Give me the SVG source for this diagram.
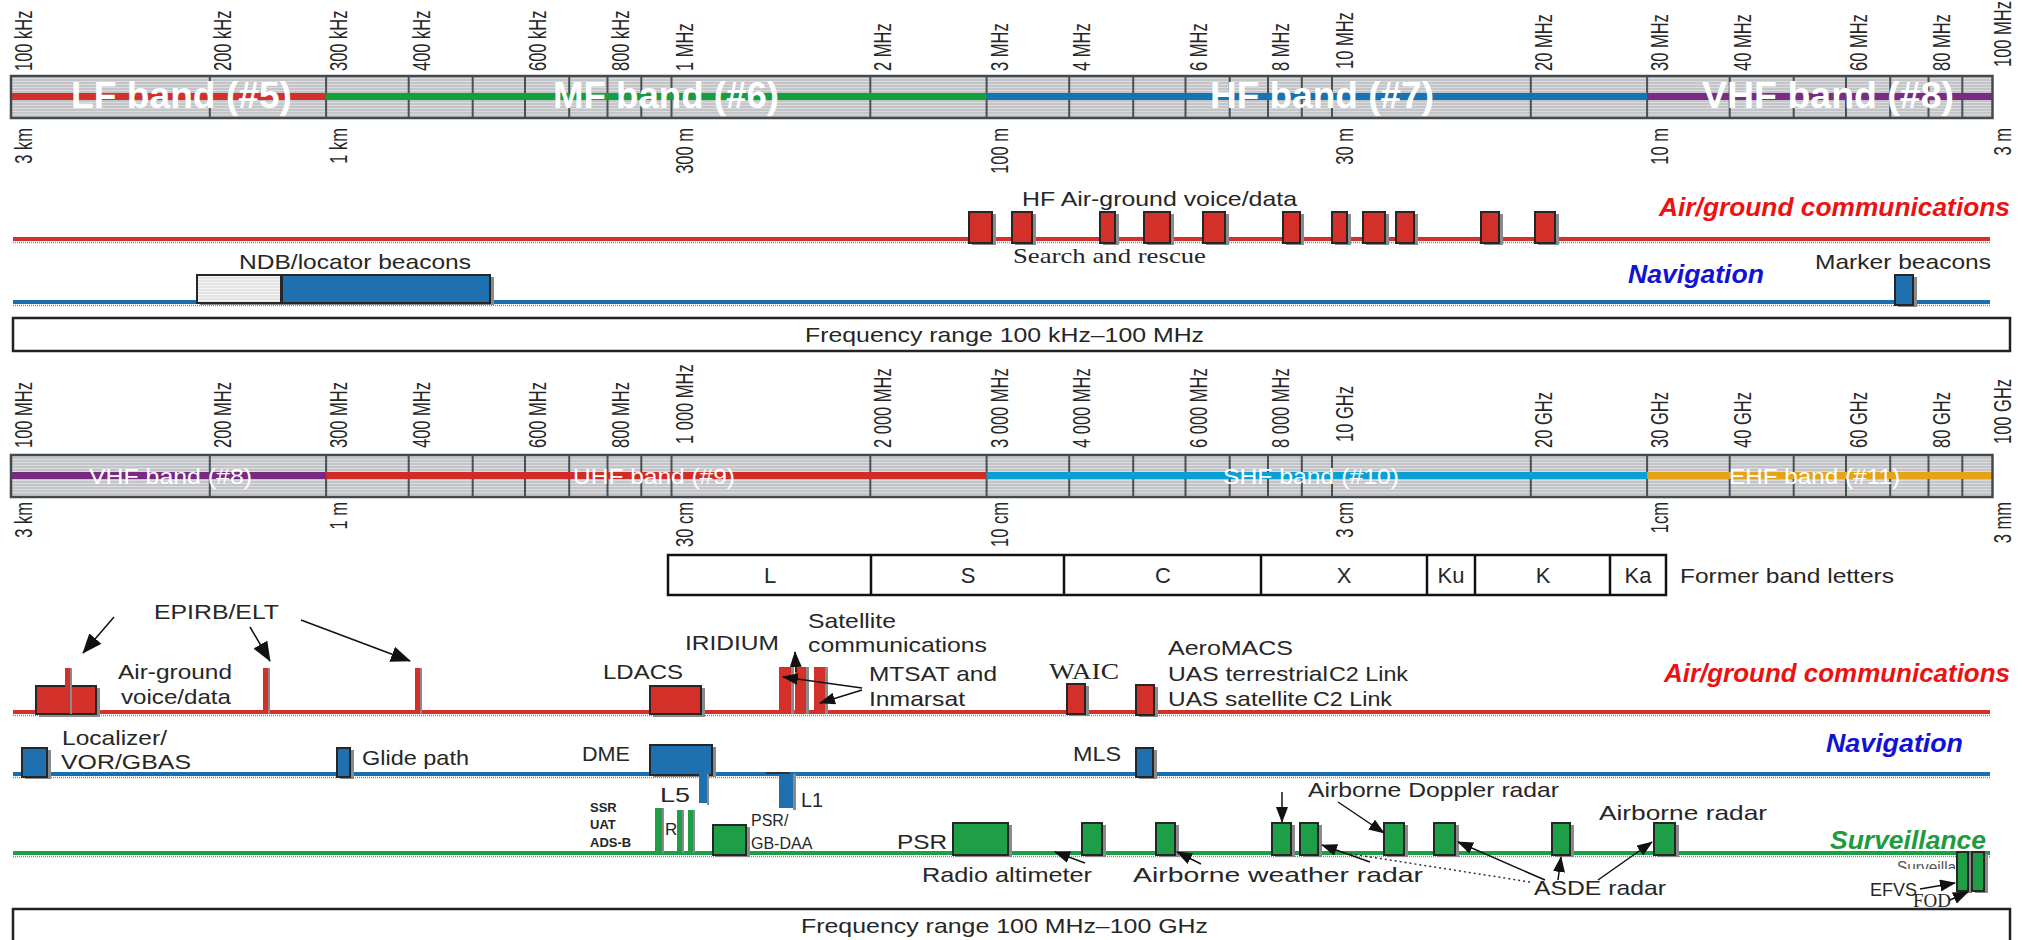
<svg xmlns="http://www.w3.org/2000/svg" width="2025" height="940" viewBox="0 0 2025 940">
<defs>
<style>
text{font-family:"Liberation Sans",Arial,sans-serif;fill:#262626}
.tk{font-size:16.5px}
.band{fill:#fff;font-size:36px;font-weight:bold}
.band2{fill:#fff;font-size:22.5px}
.l{font-size:21px}
.ser{font-family:"Liberation Serif","Times New Roman",serif}
.cat{font-weight:bold;font-style:italic;font-size:26.5px}
.rb{fill:#d4302a;stroke:#262626;stroke-width:2}
.bb{fill:#1f70ae;stroke:#262626;stroke-width:2}
.gb{fill:#1f9e48;stroke:#262626;stroke-width:2}
.sh{fill:#8a8a8a}
.div{stroke:#4a5155;stroke-width:2;fill:none}
.dot{stroke:#8a8a8a;stroke-width:1.5;stroke-dasharray:1 1;fill:none}
.arr{stroke:#111;stroke-width:1.5;fill:none;marker-end:url(#ah)}
.arrb{stroke:#111;stroke-width:1.5;fill:none;marker-end:url(#ahb)}
</style>
<pattern id="stripe" width="6" height="3" patternUnits="userSpaceOnUse"><rect width="6" height="3" fill="#c3c5c8"/><rect width="6" height="1" fill="#dadcde"/></pattern>
<pattern id="stripeL" width="6" height="3" patternUnits="userSpaceOnUse"><rect width="6" height="3" fill="#e4e4e4"/><rect width="6" height="1" fill="#f4f4f4"/></pattern>
<marker id="ah" viewBox="0 0 16 12" markerWidth="16" markerHeight="12" refX="15" refY="6" orient="auto" markerUnits="userSpaceOnUse"><path d="M0,0L16,6L0,12z" fill="#111"/></marker>
<marker id="ahb" viewBox="0 0 20 16" markerWidth="20" markerHeight="16" refX="19" refY="8" orient="auto" markerUnits="userSpaceOnUse"><path d="M0,0L20,8L0,16z" fill="#111"/></marker>
<clipPath id="cliphid"><rect x="1880" y="858" width="110" height="11"/></clipPath>
<path id="divs" d="M209.8,0V42M326.1,0V42M408.7,0V42M472.7,0V42M525,0V42M569.2,0V42M607.5,0V42M641.3,0V42M671.5,0V42M870.3,0V42M986.6,0V42M1069.2,0V42M1133.2,0V42M1185.5,0V42M1229.7,0V42M1268,0V42M1301.8,0V42M1332,0V42M1530.8,0V42M1647.1,0V42M1729.7,0V42M1793.7,0V42M1846,0V42M1890.2,0V42M1928.5,0V42M1962.3,0V42"/>
</defs>
<rect width="2025" height="940" fill="#fff"/>

<!-- ================= TOP SCALE ================= -->
<g id="scale-top">
<rect x="11" y="76" width="1981.5" height="42" fill="url(#stripe)"/>
<line x1="11" y1="97" x2="1992.5" y2="97" class="dot"/>
<use href="#divs" transform="translate(0,76)" class="div"/>
<rect x="11" y="93" width="315.1" height="7" fill="#d42f2a"/>
<rect x="326.1" y="93" width="660.5" height="7" fill="#12a03e"/>
<rect x="986.6" y="93" width="660.5" height="7" fill="#1474b4"/>
<rect x="1647.1" y="93" width="345.4" height="7" fill="#7a2c84"/>
<rect x="11" y="76" width="1981.5" height="42" fill="none" stroke="#434a4e" stroke-width="2.5"/>
<text class="band" x="71" y="108" textLength="221" lengthAdjust="spacingAndGlyphs">LF band (#5)</text>
<text class="band" x="553" y="108" textLength="226" lengthAdjust="spacingAndGlyphs">MF band (#6)</text>
<text class="band" x="1210" y="108" textLength="224" lengthAdjust="spacingAndGlyphs">HF band (#7)</text>
<text class="band" x="1702" y="108" textLength="252" lengthAdjust="spacingAndGlyphs">VHF band (#8)</text>
</g>
<g id="freq-top" class="tk">
<text transform="translate(32,71) scale(1.45,1) rotate(-90)">100 kHz</text>
<text transform="translate(230.8,71) scale(1.45,1) rotate(-90)">200 kHz</text>
<text transform="translate(347.1,71) scale(1.45,1) rotate(-90)">300 kHz</text>
<text transform="translate(429.7,71) scale(1.45,1) rotate(-90)">400 kHz</text>
<text transform="translate(546,71) scale(1.45,1) rotate(-90)">600 kHz</text>
<text transform="translate(628.5,71) scale(1.45,1) rotate(-90)">800 kHz</text>
<text transform="translate(692.5,71) scale(1.45,1) rotate(-90)">1 MHz</text>
<text transform="translate(891.3,71) scale(1.45,1) rotate(-90)">2 MHz</text>
<text transform="translate(1007.6,71) scale(1.45,1) rotate(-90)">3 MHz</text>
<text transform="translate(1090.2,71) scale(1.45,1) rotate(-90)">4 MHz</text>
<text transform="translate(1206.5,71) scale(1.45,1) rotate(-90)">6 MHz</text>
<text transform="translate(1289,71) scale(1.45,1) rotate(-90)">8 MHz</text>
<text transform="translate(1353,69) scale(1.45,1) rotate(-90)">10 MHz</text>
<text transform="translate(1551.8,71) scale(1.45,1) rotate(-90)">20 MHz</text>
<text transform="translate(1668.1,71) scale(1.45,1) rotate(-90)">30 MHz</text>
<text transform="translate(1750.7,71) scale(1.45,1) rotate(-90)">40 MHz</text>
<text transform="translate(1867,71) scale(1.45,1) rotate(-90)">60 MHz</text>
<text transform="translate(1949.5,71) scale(1.45,1) rotate(-90)">80 MHz</text>
<text transform="translate(2011,67) scale(1.45,1) rotate(-90)">100 MHz</text>
</g>
<g id="wave-top" class="tk" text-anchor="end">
<text transform="translate(32,128) scale(1.45,1) rotate(-90)">3 km</text>
<text transform="translate(347.1,128) scale(1.45,1) rotate(-90)">1 km</text>
<text transform="translate(692.5,128) scale(1.45,1) rotate(-90)">300 m</text>
<text transform="translate(1007.6,128) scale(1.45,1) rotate(-90)">100 m</text>
<text transform="translate(1353,128) scale(1.45,1) rotate(-90)">30 m</text>
<text transform="translate(1668.1,128) scale(1.45,1) rotate(-90)">10 m</text>
<text transform="translate(2011,128) scale(1.45,1) rotate(-90)">3 m</text>
</g>

<!-- ================= TOP SERVICES ================= -->
<g id="lines-top">
<rect x="13" y="237" width="1977" height="4" fill="#d3302a"/>
<line x1="13" y1="242.5" x2="1990" y2="242.5" class="dot"/>
<rect x="13" y="300" width="1977" height="4" fill="#1a6fb0"/>
<line x1="13" y1="305.5" x2="1990" y2="305.5" class="dot"/>
</g>
<g id="hf-airground">
<rect class="sh" x="972" y="214" width="24" height="31"/><rect class="rb" x="969" y="212" width="23" height="31"/>
<rect class="sh" x="1015" y="214" width="21" height="31"/><rect class="rb" x="1012" y="212" width="20" height="31"/>
<rect class="sh" x="1103" y="214" width="16" height="31"/><rect class="rb" x="1100" y="212" width="15" height="31"/>
<rect class="sh" x="1147" y="214" width="27" height="31"/><rect class="rb" x="1144" y="212" width="26" height="31"/>
<rect class="sh" x="1206" y="214" width="23" height="31"/><rect class="rb" x="1203" y="212" width="22" height="31"/>
<rect class="sh" x="1286" y="214" width="18" height="31"/><rect class="rb" x="1283" y="212" width="17" height="31"/>
<rect class="sh" x="1335" y="214" width="16" height="31"/><rect class="rb" x="1332" y="212" width="15" height="31"/>
<rect class="sh" x="1366" y="214" width="23" height="31"/><rect class="rb" x="1363" y="212" width="22" height="31"/>
<rect class="sh" x="1399" y="214" width="19" height="31"/><rect class="rb" x="1396" y="212" width="18" height="31"/>
<rect class="sh" x="1484" y="214" width="19" height="31"/><rect class="rb" x="1481" y="212" width="18" height="31"/>
<rect class="sh" x="1538" y="214" width="21" height="31"/><rect class="rb" x="1535" y="212" width="20" height="31"/>
<text class="l" x="1022" y="206" textLength="275" lengthAdjust="spacingAndGlyphs">HF Air-ground voice/data</text>
<text class="ser" x="1013" y="263" font-size="22" textLength="193" lengthAdjust="spacingAndGlyphs">Search and rescue</text>
</g>
<g id="ndb">
<rect class="sh" x="200" y="277" width="294" height="28"/>
<rect x="197" y="275" width="84" height="28" fill="url(#stripeL)" stroke="#262626" stroke-width="2"/>
<rect class="bb" x="282" y="275" width="208" height="28"/>
<text class="l" x="239" y="269" textLength="232" lengthAdjust="spacingAndGlyphs">NDB/locator beacons</text>
</g>
<g id="marker">
<rect class="sh" x="1898" y="277" width="19" height="30"/><rect class="bb" x="1895" y="275" width="18" height="30"/>
<text class="l" x="1815" y="269" textLength="176" lengthAdjust="spacingAndGlyphs">Marker beacons</text>
</g>
<g id="cat-top">
<text class="cat" x="1659" y="216" style="fill:#ee1111" textLength="351" lengthAdjust="spacingAndGlyphs">Air/ground communications</text>
<text class="cat" x="1628" y="283" style="fill:#1212d6" textLength="136" lengthAdjust="spacingAndGlyphs">Navigation</text>
</g>
<g id="range-top">
<rect x="13" y="318" width="1997" height="33" fill="#fff" stroke="#222" stroke-width="2.5"/>
<text class="l" x="805" y="342" textLength="399" lengthAdjust="spacingAndGlyphs">Frequency range 100 kHz–100 MHz</text>
</g>

<!-- ================= BOTTOM SCALE ================= -->
<g id="scale-bottom">
<rect x="11" y="455" width="1981.5" height="42" fill="url(#stripe)"/>
<line x1="11" y1="476" x2="1992.5" y2="476" class="dot"/>
<use href="#divs" transform="translate(0,455)" class="div"/>
<rect x="11" y="472" width="315.1" height="7" fill="#772a80"/>
<rect x="326.1" y="472" width="660.5" height="7" fill="#d12b27"/>
<rect x="986.6" y="472" width="660.5" height="7" fill="#0aa0d6"/>
<rect x="1647.1" y="472" width="345.4" height="7" fill="#e6a318"/>
<rect x="11" y="455" width="1981.5" height="42" fill="none" stroke="#434a4e" stroke-width="2.5"/>
<text class="band2" x="89" y="484" textLength="163" lengthAdjust="spacingAndGlyphs">VHF band (#8)</text>
<text class="band2" x="573" y="484" textLength="162" lengthAdjust="spacingAndGlyphs">UHF band (#9)</text>
<text class="band2" x="1223" y="484" textLength="176" lengthAdjust="spacingAndGlyphs">SHF band (#10)</text>
<text class="band2" x="1729" y="484" textLength="171" lengthAdjust="spacingAndGlyphs">EHF band (#11)</text>
</g>
<g id="freq-bottom" class="tk">
<text transform="translate(32,448) scale(1.45,1) rotate(-90)">100 MHz</text>
<text transform="translate(230.8,448) scale(1.45,1) rotate(-90)">200 MHz</text>
<text transform="translate(347.1,448) scale(1.45,1) rotate(-90)">300 MHz</text>
<text transform="translate(429.7,448) scale(1.45,1) rotate(-90)">400 MHz</text>
<text transform="translate(546,448) scale(1.45,1) rotate(-90)">600 MHz</text>
<text transform="translate(628.5,448) scale(1.45,1) rotate(-90)">800 MHz</text>
<text transform="translate(692.5,444) scale(1.45,1) rotate(-90)">1 000 MHz</text>
<text transform="translate(891.3,448) scale(1.45,1) rotate(-90)">2 000 MHz</text>
<text transform="translate(1007.6,448) scale(1.45,1) rotate(-90)">3 000 MHz</text>
<text transform="translate(1090.2,448) scale(1.45,1) rotate(-90)">4 000 MHz</text>
<text transform="translate(1206.5,448) scale(1.45,1) rotate(-90)">6 000 MHz</text>
<text transform="translate(1289,448) scale(1.45,1) rotate(-90)">8 000 MHz</text>
<text transform="translate(1353,442) scale(1.45,1) rotate(-90)">10 GHz</text>
<text transform="translate(1551.8,448) scale(1.45,1) rotate(-90)">20 GHz</text>
<text transform="translate(1668.1,448) scale(1.45,1) rotate(-90)">30 GHz</text>
<text transform="translate(1750.7,448) scale(1.45,1) rotate(-90)">40 GHz</text>
<text transform="translate(1867,448) scale(1.45,1) rotate(-90)">60 GHz</text>
<text transform="translate(1949.5,448) scale(1.45,1) rotate(-90)">80 GHz</text>
<text transform="translate(2011,444) scale(1.45,1) rotate(-90)">100 GHz</text>
</g>
<g id="wave-bottom" class="tk" text-anchor="end">
<text transform="translate(32,502) scale(1.45,1) rotate(-90)">3 km</text>
<text transform="translate(347.1,502) scale(1.45,1) rotate(-90)">1 m</text>
<text transform="translate(692.5,502) scale(1.45,1) rotate(-90)">30 cm</text>
<text transform="translate(1007.6,502) scale(1.45,1) rotate(-90)">10 cm</text>
<text transform="translate(1353,502) scale(1.45,1) rotate(-90)">3 cm</text>
<text transform="translate(1668.1,502) scale(1.45,1) rotate(-90)">1cm</text>
<text transform="translate(2011,502) scale(1.45,1) rotate(-90)">3 mm</text>
</g>
<g id="band-letters">
<rect x="668" y="555" width="998" height="40" fill="#fff" stroke="#111" stroke-width="2.5"/>
<path d="M871,555V595M1064,555V595M1261,555V595M1427,555V595M1475,555V595M1610,555V595" stroke="#111" stroke-width="2.5"/>
<g font-size="22" text-anchor="middle">
<text x="770" y="583">L</text><text x="968" y="583">S</text><text x="1163" y="583">C</text><text x="1344" y="583">X</text><text x="1451" y="583">Ku</text><text x="1543" y="583">K</text><text x="1638" y="583">Ka</text>
</g>
<text class="l" x="1680" y="583" textLength="214" lengthAdjust="spacingAndGlyphs">Former band letters</text>
</g>

<!-- ================= BOTTOM SERVICES ================= -->
<g id="lines-bottom">
<rect x="13" y="710" width="1977" height="4" fill="#d3302a"/>
<line x1="13" y1="715.5" x2="1990" y2="715.5" class="dot"/>
<rect x="13" y="772" width="1977" height="4" fill="#1a6fb0"/>
<line x1="13" y1="777.5" x2="1990" y2="777.5" class="dot"/>
<rect x="13" y="851" width="1977" height="4" fill="#1f9e48"/>
<line x1="13" y1="856.5" x2="1990" y2="856.5" class="dot"/>
</g>
<g id="vhf-airground">
<rect class="sh" x="39" y="688" width="61" height="29"/><rect class="rb" x="36" y="686" width="60" height="28"/>
<text class="l" x="118" y="679" textLength="114" lengthAdjust="spacingAndGlyphs">Air-ground</text>
<text class="l" x="121" y="704" textLength="110" lengthAdjust="spacingAndGlyphs">voice/data</text>
</g>
<g id="epirb">
<rect class="sh" x="70" y="668" width="2" height="46"/><rect x="65" y="668" width="5" height="44" fill="#d3302a"/>
<rect class="sh" x="268" y="668" width="2" height="46"/><rect x="263" y="668" width="5" height="44" fill="#d3302a"/>
<rect class="sh" x="420" y="668" width="2" height="46"/><rect x="415" y="668" width="5" height="44" fill="#d3302a"/>
<text class="l" x="154" y="619" textLength="125" lengthAdjust="spacingAndGlyphs">EPIRB/ELT</text>
</g>
<g id="ldacs">
<rect class="sh" x="653" y="688" width="52" height="29"/><rect class="rb" x="650" y="686" width="51" height="28"/>
<text class="l" x="603" y="679" textLength="80" lengthAdjust="spacingAndGlyphs">LDACS</text>
</g>
<g id="satcom">
<rect class="sh" x="791" y="667" width="3" height="47"/><rect x="779" y="667" width="12" height="45" fill="#d3302a"/>
<rect class="sh" x="806" y="667" width="3" height="47"/><rect x="795" y="667" width="11" height="45" fill="#d3302a"/>
<rect class="sh" x="825" y="667" width="3" height="47"/><rect x="814" y="667" width="11" height="45" fill="#d3302a"/>
<text class="l" x="685" y="650" textLength="94" lengthAdjust="spacingAndGlyphs">IRIDIUM</text>
<text class="l" x="808" y="628" textLength="88" lengthAdjust="spacingAndGlyphs">Satellite</text>
<text class="l" x="808" y="652" textLength="179" lengthAdjust="spacingAndGlyphs">communications</text>
<text class="l" x="869" y="681" textLength="128" lengthAdjust="spacingAndGlyphs">MTSAT and</text>
<text class="l" x="869" y="706" textLength="96" lengthAdjust="spacingAndGlyphs">Inmarsat</text>
</g>
<g id="waic">
<rect class="sh" x="1070" y="686" width="19" height="30"/><rect class="rb" x="1067" y="684" width="18" height="30"/>
<text class="ser" x="1049" y="679" font-size="23" textLength="70" lengthAdjust="spacingAndGlyphs">WAIC</text>
</g>
<g id="aeromacs">
<rect class="sh" x="1139" y="687" width="19" height="30"/><rect class="rb" x="1136" y="685" width="18" height="30"/>
<text class="l" x="1168" y="655" textLength="125" lengthAdjust="spacingAndGlyphs">AeroMACS</text>
<text class="l" x="1168" y="681" textLength="160" lengthAdjust="spacingAndGlyphs">UAS terrestrial</text>
<text x="1329" y="681" font-family="'Open Sans','Noto Sans',sans-serif" font-size="21" textLength="79" lengthAdjust="spacingAndGlyphs">C2 Link</text>
<text class="l" x="1168" y="706" textLength="140" lengthAdjust="spacingAndGlyphs">UAS satellite</text>
<text x="1313" y="706" font-family="'Open Sans','Noto Sans',sans-serif" font-size="21" textLength="79" lengthAdjust="spacingAndGlyphs">C2 Link</text>
</g>
<g id="cat-bottom">
<text class="cat" x="1664" y="682" style="fill:#ee1111" textLength="346" lengthAdjust="spacingAndGlyphs">Air/ground communications</text>
<text class="cat" x="1826" y="752" style="fill:#1212d6" textLength="137" lengthAdjust="spacingAndGlyphs">Navigation</text>
<text class="cat" x="1830" y="849" style="fill:#1f9a3e" textLength="156" lengthAdjust="spacingAndGlyphs">Surveillance</text>
<text x="1897" y="873" font-size="16" style="fill:#555" clip-path="url(#cliphid)" textLength="84" lengthAdjust="spacingAndGlyphs">Surveillance</text>
</g>
<g id="localizer">
<rect class="sh" x="25" y="750" width="26" height="29"/><rect class="bb" x="22" y="748" width="25" height="29"/>
<text class="l" x="62" y="745" textLength="105" lengthAdjust="spacingAndGlyphs">Localizer/</text>
<text class="l" x="61" y="769" textLength="130" lengthAdjust="spacingAndGlyphs">VOR/GBAS</text>
</g>
<g id="glide">
<rect class="sh" x="340" y="750" width="14" height="29"/><rect class="bb" x="337" y="748" width="13" height="29"/>
<text class="l" x="362" y="765" textLength="107" lengthAdjust="spacingAndGlyphs">Glide path</text>
</g>
<g id="dme">
<rect class="sh" x="653" y="747" width="63" height="30"/><rect class="bb" x="650" y="745" width="62" height="30"/>
<text class="l" x="582" y="761" font-size="22" textLength="48" lengthAdjust="spacingAndGlyphs">DME</text>
</g>
<g id="gnss">
<rect class="sh" x="707" y="774" width="2" height="31"/><rect x="699" y="774" width="8" height="29" fill="#1f70ae"/>
<rect class="sh" x="793" y="774" width="3" height="36"/><rect x="779" y="774" width="14" height="34" fill="#1f70ae"/>
<line x1="766" y1="773" x2="790" y2="773" stroke="#333" stroke-width="2"/>
<text class="l" x="660" y="802" font-size="24" textLength="30" lengthAdjust="spacingAndGlyphs">L5</text>
<text class="l" x="801" y="807" textLength="22" lengthAdjust="spacingAndGlyphs">L1</text>
</g>
<g id="mls">
<rect class="sh" x="1139" y="750" width="18" height="29"/><rect class="bb" x="1136" y="748" width="17" height="29"/>
<text class="l" x="1073" y="761" textLength="48" lengthAdjust="spacingAndGlyphs">MLS</text>
</g>
<g id="ssr">
<g font-size="13" font-weight="bold">
<text x="590" y="812">SSR</text><text x="590" y="829">UAT</text><text x="590" y="847">ADS-B</text>
</g>
<text x="665" y="835" font-size="17">R</text>
<rect class="sh" x="662" y="808" width="2" height="45"/><rect x="655" y="808" width="7" height="45" fill="#1f9e48"/>
<rect class="sh" x="682" y="810" width="2" height="43"/><rect x="677" y="810" width="5" height="43" fill="#1f9e48"/>
<rect class="sh" x="693" y="810" width="2" height="43"/><rect x="688" y="810" width="5" height="43" fill="#1f9e48"/>
</g>
<g id="psr-gbdaa">
<rect class="sh" x="716" y="827" width="34" height="30"/><rect class="gb" x="713" y="825" width="33" height="30"/>
<text x="751" y="826" font-size="16">PSR/</text>
<text x="751" y="849" font-size="16">GB-DAA</text>
</g>
<g id="psr">
<rect class="sh" x="956" y="825" width="56" height="32"/><rect class="gb" x="953" y="823" width="55" height="32"/>
<text class="l" x="897" y="849" textLength="50" lengthAdjust="spacingAndGlyphs">PSR</text>
</g>
<g id="surv-boxes">
<rect class="sh" x="1085" y="825" width="21" height="32"/><rect class="gb" x="1082" y="823" width="20" height="32"/>
<rect class="sh" x="1159" y="825" width="20" height="32"/><rect class="gb" x="1156" y="823" width="19" height="32"/>
<rect class="sh" x="1275" y="825" width="20" height="32"/><rect class="gb" x="1272" y="823" width="19" height="32"/>
<rect class="sh" x="1303" y="825" width="19" height="32"/><rect class="gb" x="1300" y="823" width="18" height="32"/>
<rect class="sh" x="1387" y="825" width="21" height="32"/><rect class="gb" x="1384" y="823" width="20" height="32"/>
<rect class="sh" x="1437" y="825" width="22" height="32"/><rect class="gb" x="1434" y="823" width="21" height="32"/>
<rect class="sh" x="1555" y="825" width="19" height="32"/><rect class="gb" x="1552" y="823" width="18" height="32"/>
<rect class="sh" x="1657" y="825" width="22" height="32"/><rect class="gb" x="1654" y="823" width="21" height="32"/>
<rect class="sh" x="1960" y="854" width="12" height="39"/><rect class="gb" x="1957" y="852" width="11" height="39"/>
<rect class="sh" x="1975" y="854" width="13" height="39"/><rect class="gb" x="1972" y="852" width="12" height="39"/>
</g>
<g id="surv-labels">
<text class="l" x="922" y="882" textLength="170" lengthAdjust="spacingAndGlyphs">Radio altimeter</text>
<text class="l" x="1133" y="882" textLength="290" lengthAdjust="spacingAndGlyphs">Airborne weather radar</text>
<text class="l" x="1308" y="797" textLength="251" lengthAdjust="spacingAndGlyphs">Airborne Doppler radar</text>
<text class="l" x="1599" y="820" textLength="168" lengthAdjust="spacingAndGlyphs">Airborne radar</text>
<text class="l" x="1534" y="895" textLength="132" lengthAdjust="spacingAndGlyphs">ASDE radar</text>
<text x="1870" y="896" font-size="18">EFVS</text>
<text class="ser" x="1913" y="907" font-size="19">FOD</text>
</g>
<g id="connectors">
<line class="arrb" x1="114" y1="617" x2="83" y2="653"/>
<line class="arrb" x1="250" y1="627" x2="270" y2="661"/>
<line class="arrb" x1="301" y1="620" x2="410" y2="661"/>
<line class="arr" x1="796" y1="672" x2="795" y2="652"/>
<line class="arr" x1="862" y1="688" x2="783" y2="677"/>
<line class="arr" x1="862" y1="690" x2="820" y2="703"/>
<line class="arr" x1="1085" y1="863" x2="1055" y2="852"/>
<line class="arr" x1="1201" y1="864" x2="1177" y2="852"/>
<line class="arr" x1="1370" y1="862" x2="1322" y2="845"/>
<line class="arr" x1="1282" y1="792" x2="1282" y2="822"/>
<line class="arr" x1="1338" y1="802" x2="1384" y2="833"/>
<line class="arr" x1="1545" y1="880" x2="1458" y2="842"/>
<line class="arr" x1="1558" y1="880" x2="1561" y2="857"/>
<line class="arr" x1="1598" y1="880" x2="1652" y2="842"/>
<line x1="1530" y1="882" x2="1345" y2="853" stroke="#333" stroke-width="1.5" stroke-dasharray="2 3"/>
<line class="arr" x1="1920" y1="889" x2="1955" y2="883"/>
<line class="arr" x1="1950" y1="900" x2="1968" y2="892"/>
</g>
<g id="range-bottom">
<rect x="13" y="909" width="1997" height="40" fill="#fff" stroke="#222" stroke-width="2.5"/>
<text class="l" x="801" y="933" textLength="407" lengthAdjust="spacingAndGlyphs">Frequency range 100 MHz–100 GHz</text>
</g>
</svg>
